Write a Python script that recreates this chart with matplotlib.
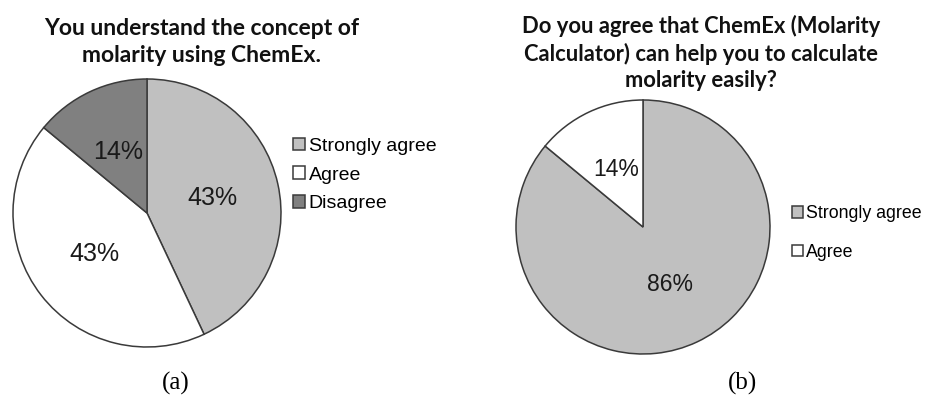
import matplotlib

matplotlib.use("Agg")
import matplotlib.pyplot as plt

W, H = 928, 407

LABELS_A = ["Strongly agree", "Agree", "Disagree"]
VALUES_A = [43, 43, 14]
COLORS_A = ["#c0c0c0", "#ffffff", "#808080"]
TITLE_A = "You understand the concept of\nmolarity using ChemEx."

LABELS_B = ["Strongly agree", "Agree"]
VALUES_B = [86, 14]
COLORS_B = ["#c0c0c0", "#ffffff"]
TITLE_B = "Do you agree that ChemEx (Molarity\nCalculator) can help you to calculate\nmolarity easily?"

EDGE = "#3a3a3a"


def pie_axes(fig, cx, cy, r):
    """Axes in pixel terms: pie of radius r centred at (cx, cy) from top-left."""
    size = 2.5 * r
    return fig.add_axes([(cx - size / 2) / W, (H - cy - size / 2) / H, size / W, size / H])


def draw_pie(ax, values, colors, pct_size):
    wedges, texts, autotexts = ax.pie(
        values,
        colors=colors,
        startangle=90,
        counterclock=False,
        autopct=lambda p: f"{p:.0f}%",
        pctdistance=0.5,
        wedgeprops={"edgecolor": EDGE, "linewidth": 1.1},
        textprops={"fontsize": pct_size, "family": "Liberation Sans", "color": "#1a1a1a"},
    )
    ax.set_xlim(-1.25, 1.25)
    ax.set_ylim(-1.25, 1.25)
    return wedges


fig = plt.figure(figsize=(W / 100, H / 100), dpi=100)

ax_a = pie_axes(fig, 147, 213, 134)
wedges_a = draw_pie(ax_a, VALUES_A, COLORS_A, 18)

ax_b = pie_axes(fig, 643, 227, 127)
wedges_b = draw_pie(ax_b, VALUES_B, COLORS_B, 16.5)

legend_style = dict(
    frameon=False,
    handlelength=0.6,
    handleheight=0.6,
    handletextpad=0.2,
    borderaxespad=0,
    borderpad=0,
)

fig.legend(wedges_a, LABELS_A, loc="center left", bbox_to_anchor=(293 / W, 1 - 175 / H),
           labelspacing=0.6, prop={"family": "Liberation Sans", "size": 14}, **legend_style)
fig.legend(wedges_b, LABELS_B, loc="center left", bbox_to_anchor=(792 / W, 1 - 233 / H),
           labelspacing=1.2, prop={"family": "Liberation Sans", "size": 12.8}, **legend_style)

fig.text(202 / W, 1 - 42 / H, TITLE_A, ha="center", va="center", fontsize=16.5,
         fontweight="bold", family="Lato", linespacing=1.35, color="#111111")
fig.text(701 / W, 1 - 53 / H, TITLE_B, ha="center", va="center", fontsize=15.8,
         fontweight="bold", family="Lato", linespacing=1.3, color="#111111")

fig.text(176 / W, 1 - 383 / H, "(a)", ha="center", va="center", fontsize=18,
         family="Liberation Serif")
fig.text(743 / W, 1 - 383 / H, "(b)", ha="center", va="center", fontsize=18,
         family="Liberation Serif")

fig.savefig("out.png", dpi=100, facecolor="white")
